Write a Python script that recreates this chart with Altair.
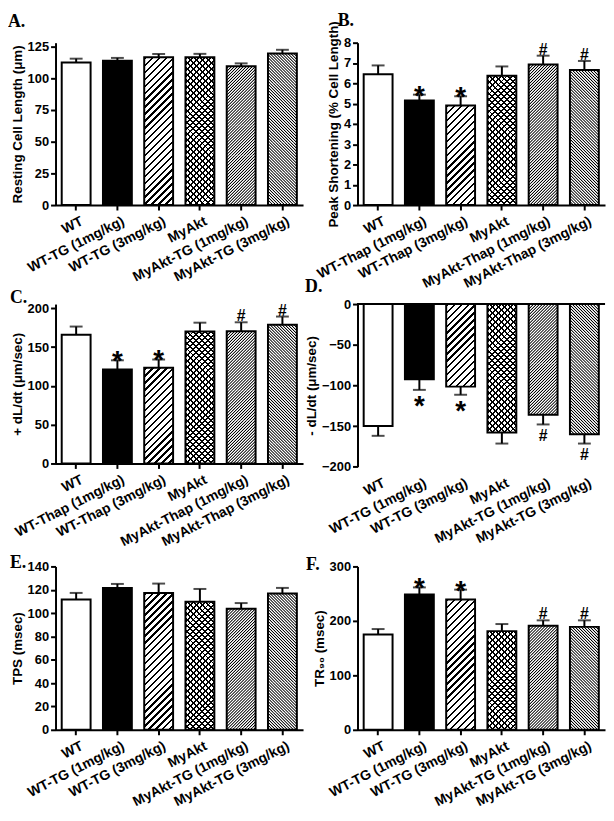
import math
import altair as alt
import pandas as pd

# ---------------- data ----------------
cats_tg = ["WT", "WT-TG (1mg/kg)", "WT-TG (3mg/kg)", "MyAkt",
           "MyAkt-TG (1mg/kg)", "MyAkt-TG (3mg/kg)"]
cats_thap = ["WT", "WT-Thap (1mg/kg)", "WT-Thap (3mg/kg)", "MyAkt",
             "MyAkt-Thap (1mg/kg)", "MyAkt-Thap (3mg/kg)"]

a_mean = [112.4, 113.8, 116.6, 116.6, 109.4, 119.4]
a_err = [3.0, 2.2, 2.5, 2.6, 2.3, 3.0]
a_mark = ["", "", "", "", "", ""]

b_mean = [6.45, 5.15, 4.91, 6.37, 6.93, 6.66]
b_err = [0.43, 0.29, 0.45, 0.46, 0.43, 0.44]
b_mark = ["", "*", "*", "", "#", "#"]

c_mean = [166.0, 121.0, 123.5, 170.0, 170.5, 178.8]
c_err = [10.5, 12.0, 10.5, 11.5, 11.5, 10.6]
c_mark = ["", "*", "*", "", "#", "#"]

d_mean = [-150.0, -92.5, -101.5, -158.0, -136.0, -160.0]
d_err = [12.0, 13.0, 10.0, 13.5, 12.0, 11.5]
d_mark = ["", "*", "*", "", "#", "#"]

e_mean = [111.7, 121.6, 117.3, 109.7, 103.8, 116.8]
e_err = [5.6, 3.4, 8.0, 11.0, 4.8, 4.8]
e_mark = ["", "", "", "", "", ""]

f_mean = [175.0, 248.5, 239.4, 181.2, 191.0, 189.0]
f_err = [10.0, 13.0, 18.0, 13.0, 10.0, 12.0]
f_mark = ["", "*", "*", "", "#", "#"]

# ---------------- style helpers ----------------
W = 250
PAD_IN = 0.3
PAD_OUT = 0.15
FONT = "Liberation Sans, Arial, Helvetica, sans-serif"
SERIF = "Liberation Serif, Times New Roman, serif"
CLEAR = "rgba(0,0,0,0)"
INK = "#000000"
R2 = 2 ** 0.5


def stripes(w, h, direction, period, thick, y0=0.0, phase=1.0, ramp=0.0):
    """Linear gradient drawing 45-degree stripes inside a w x h rectangle
    whose top lies y0 px below the top of the whole bar (keeps the pattern
    continuous across stacked pieces). The gradient runs corner to corner.
    ramp > 0 gives soft stripe edges (px along x+y)."""
    span = w + h
    s = span * w / (w * w + h * h)
    p = period * R2          # stripe period along x+y (or x-y)
    d = thick * R2           # stripe width along x+y
    if direction == "/":
        u0 = (phase - y0) % p
    else:
        u0 = (phase + h + y0) % p
    stops = [{"offset": 0.0, "color": CLEAR}]
    u = u0 - p
    last = 0.0
    while u < span:
        pts = [(u, CLEAR), (u + ramp, INK), (u + ramp + d, INK),
               (u + 2 * ramp + d, CLEAR)]
        for pos, col in pts:
            if 0.0 <= pos <= span:
                off = max(round(pos / span, 7), last)
                stops.append({"offset": off, "color": col})
                last = off
        u += p
    stops.append({"offset": 1.0, "color": CLEAR})
    if direction == "/":
        x1, y1, x2, y2 = 0, 0, s, s * h / w
    else:
        x1, y1, x2, y2 = 0, 1, s, 1 - s * h / w
    return {"gradient": "linear", "x1": x1, "y1": y1, "x2": round(x2, 6),
            "y2": round(y2, 6), "stops": stops}


# hatch styles per bar index: (direction, perpendicular period px, line px)
HATCH = {
    2: [("/", 7 / R2, 1.7)],
    3: [("/", 6 / R2, 1.4), ("\\", 6 / R2, 1.4)],
}
# dense hatching: soft-edged fine stripes (period 3 px along x)
DENSE = {4: ("/", 3 / R2, 0.25 / R2), 5: ("\\", 3 / R2, 0.25 / R2)}
DENSE_RAMP = 1.0
SEG = 30  # px height of the pieces used for the dense hatching

AX = dict(labelFont=FONT, labelFontWeight="bold", labelColor="black",
          titleFont=FONT, titleFontWeight="bold", titleColor="black",
          domainColor="black", domainWidth=2, tickColor="black", tickWidth=2,
          grid=False)


def panel(letter, lx, ly, cats, mean, err, marks, ytitle, dom, ticks, H,
          negative=False):
    n = len(cats)
    cap = [m - e if negative else m + e for m, e in zip(mean, err)]
    df = pd.DataFrame({"cat": cats, "mean": mean, "cap": cap,
                       "mark": marks, "idx": list(range(n))})

    if negative:
        xaxis = alt.Axis(labelAngle=-27, labelAlign="right", labelBaseline="top",
                         domain=False, ticks=False, tickSize=0, labelPadding=9,
                         labelOffset=3, labelFontSize=14, **AX)
    else:
        xaxis = alt.Axis(labelAngle=-27, labelAlign="right", labelBaseline="top",
                         tickSize=5, labelPadding=4, labelOffset=3,
                         labelFontSize=14, **AX)
    x = alt.X("cat:N", sort=cats, title=None,
              scale=alt.Scale(paddingInner=PAD_IN, paddingOuter=PAD_OUT),
              axis=xaxis)
    yscale = alt.Scale(domain=dom, nice=False)
    yaxis = alt.Axis(values=ticks, title=ytitle, tickSize=5, labelPadding=2,
                     titlePadding=3, labelFontSize=13, titleFontSize=13.5, **AX)
    y = alt.Y("mean:Q", scale=yscale, axis=yaxis)
    ycap = alt.Y("cap:Q", scale=yscale, axis=yaxis)

    base = alt.Chart(df)
    layers = [
        base.mark_bar(strokeWidth=0).encode(
            x=x, y=y,
            fill=alt.condition(alt.datum.idx == 1, alt.value("black"),
                               alt.value("white")))
    ]
    step = W / (n - PAD_IN + 2 * PAD_OUT)
    bw = step * (1 - PAD_IN)
    ppu = H / (dom[1] - dom[0])
    for i, specs in HATCH.items():
        h = abs(mean[i]) * ppu
        for (dr, per, th) in specs:
            layers.append(
                base.mark_bar(strokeWidth=0)
                .transform_filter(alt.datum.idx == i)
                .encode(x=x, y=y, fill=alt.value(stripes(bw, h, dr, per, th)))
            )
    # dense hatching: the bar is cut into equal pieces so the pattern stays crisp
    for i, (dr, per, th) in DENSE.items():
        top_v, bot_v = max(mean[i], 0.0), min(mean[i], 0.0)
        h = abs(mean[i]) * ppu
        k_full = int(math.floor(h / SEG))
        seg_v = SEG / ppu
        rows_full = [{"cat": cats[i], "hi": top_v - k * seg_v,
                      "lo": top_v - (k + 1) * seg_v} for k in range(k_full)]
        rest_h = h - k_full * SEG
        ylo = alt.Y("lo:Q", scale=yscale, axis=yaxis)
        if rows_full:
            layers.append(
                alt.Chart(pd.DataFrame(rows_full)).mark_bar(strokeWidth=0)
                .encode(x=x, y=ylo, y2="hi:Q",
                        fill=alt.value(stripes(bw, SEG, dr, per, th,
                                               ramp=DENSE_RAMP))))
        if rest_h > 0.2:
            rows_rest = [{"cat": cats[i], "hi": top_v - k_full * seg_v,
                          "lo": bot_v}]
            layers.append(
                alt.Chart(pd.DataFrame(rows_rest)).mark_bar(strokeWidth=0)
                .encode(x=x, y=ylo, y2="hi:Q",
                        fill=alt.value(stripes(bw, rest_h, dr, per, th,
                                               y0=k_full * SEG,
                                               ramp=DENSE_RAMP))))
    layers.append(base.mark_bar(fillOpacity=0, stroke="black", strokeWidth=2)
                  .encode(x=x, y=y))
    if negative:
        layers.append(base.mark_rule(strokeWidth=2, color="black")
                      .encode(y=alt.YDatum(0, scale=yscale, axis=yaxis)))
    layers.append(base.mark_rule(strokeWidth=2, color="black")
                  .encode(x=x, y=y, y2="cap:Q"))
    layers.append(base.mark_tick(thickness=2, size=13, color="black")
                  .encode(x=x, y=ycap))
    layers.append(base.mark_text(fontSize=28, fontWeight="bold", font=FONT,
                                 color="black", baseline="alphabetic",
                                 dy=25 if negative else 10)
                  .transform_filter(alt.datum.mark == "*")
                  .encode(x=x, y=ycap, text="mark:N"))
    layers.append(base.mark_text(fontSize=16, fontWeight="bold", font=FONT,
                                 color="black", baseline="alphabetic",
                                 dy=17 if negative else -1)
                  .transform_filter(alt.datum.mark == "#")
                  .encode(x=x, y=ycap, text="mark:N"))
    # panel letter
    layers.append(base.transform_filter(alt.datum.idx == 0)
                  .mark_text(font=SERIF, fontSize=18, fontWeight="bold",
                             color="black", align="left", baseline="alphabetic")
                  .encode(x=alt.value(lx), y=alt.value(ly),
                          text=alt.value(letter)))

    return alt.layer(*layers).properties(width=W, height=H)


pA = panel("A.", -48, -16, cats_tg, a_mean, a_err, a_mark,
           "Resting Cell Length (μm)", [0, 128], [0, 25, 50, 75, 100, 125], 164)
pB = panel("B.", -20, -17, cats_thap, b_mean, b_err, b_mark,
           "Peak Shortening (% Cell Length)", [0, 8], list(range(0, 9)), 164)
pC = panel("C.", -46, -1, cats_thap, c_mean, c_err, c_mark,
           "+ dL/dt (μm/sec)", [0, 205.5], [0, 50, 100, 150, 200], 161)
pD = panel("D.", -53, -12, cats_tg, d_mean, d_err, d_mark,
           "- dL/dt (μm/sec)", [-200, 0], [-200, -150, -100, -50, 0], 164.3,
           negative=True)
pE = panel("E.", -46, 2, cats_tg, e_mean, e_err, e_mark,
           "TPS (msec)", [0, 140], [0, 20, 40, 60, 80, 100, 120, 140], 165)
pF = panel("F.", -52, 4, cats_tg, f_mean, f_err, f_mark,
           "TR₉₀ (msec)", [0, 300], [0, 100, 200, 300], 165)

chart = (
    alt.concat(pA, pB, pC, pD, pE, pF, columns=2,
               spacing=alt.RowColnumber(row=100, column=55), bounds="flush")
    .properties(padding={"left": 0, "top": 0, "right": 0, "bottom": 0})
    .configure_view(strokeWidth=0)
)

chart.save("out.html", embed_options={"renderer": "svg", "actions": False})
